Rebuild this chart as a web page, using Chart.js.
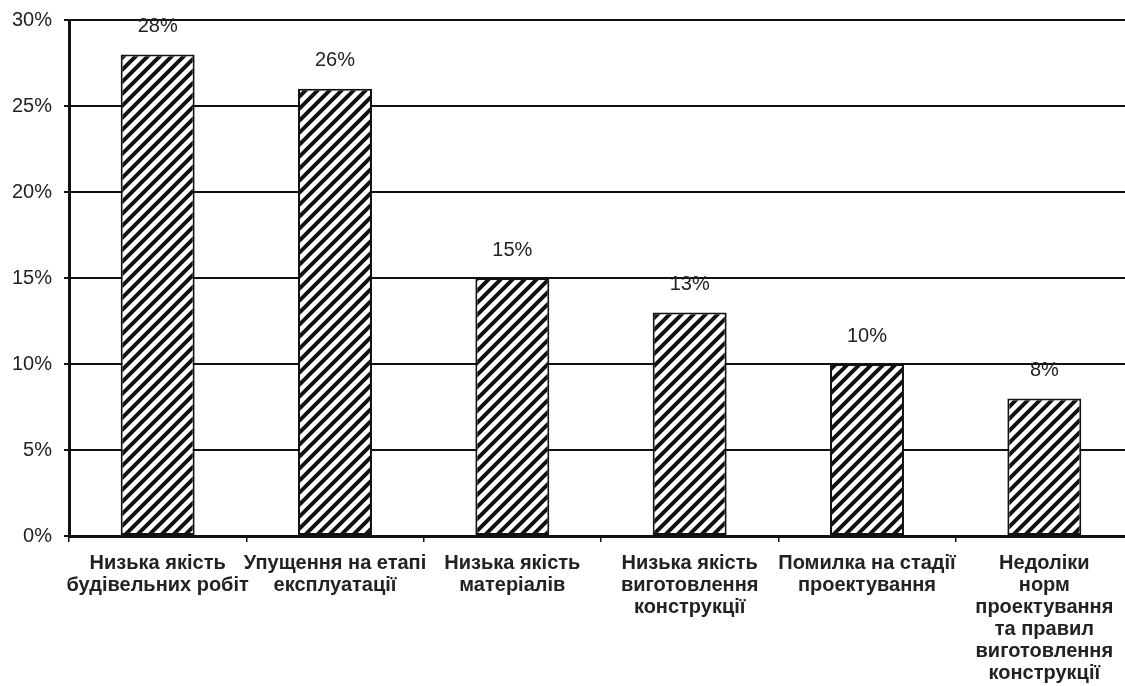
<!DOCTYPE html>
<html>
<head>
<meta charset="utf-8">
<script src="https://cdn.jsdelivr.net/npm/chart.js@4.4.1/dist/chart.umd.min.js"></script>
<style>
    html, body { margin: 0; padding: 0; background: #fff; overflow: hidden; }
    /* plot runs a little past the right edge, as in the scan */
    #wrap { width: 1133px; height: 686px; }
</style>
</head>
<body>
<div id="wrap"><canvas id="causesChart"></canvas></div>
<script>
// Categories and values
const categories = [
    ['Низька якість', 'будівельних робіт'],
    ['Упущення на етапі', 'експлуатації'],
    ['Низька якість', 'матеріалів'],
    ['Низька якість', 'виготовлення', 'конструкції'],
    ['Помилка на стадії', 'проектування'],
    ['Недоліки', 'норм', 'проектування', 'та правил', 'виготовлення', 'конструкції']
];
const shares = [28, 26, 15, 13, 10, 8];
const yTicks = [0, 5, 10, 15, 20, 25, 30];

const FONT = '"Liberation Sans", Arial, sans-serif';

// Hatch fill: black "/" stripes on white (lines x + y = k*s)
function makeHatch() {
    const s = 12;
    const c = document.createElement('canvas');
    c.width = s;
    c.height = s;
    const g = c.getContext('2d');
    g.fillStyle = '#fff';
    g.fillRect(0, 0, s, s);
    g.strokeStyle = '#111';
    g.lineWidth = 4;
    g.beginPath();
    g.moveTo(-3, s + 3); g.lineTo(s + 3, -3);
    g.moveTo(-3, 3); g.lineTo(3, -3);
    g.moveTo(s - 3, s + 3); g.lineTo(s + 3, s - 3);
    g.stroke();
    return g.createPattern(c, 'repeat');
}

// Value labels above bars
const valueLabels = {
    id: 'valueLabels',
    afterDatasetsDraw(chart) {
        const ctx = chart.ctx;
        const meta = chart.getDatasetMeta(0);
        ctx.save();
        ctx.font = '20px ' + FONT;
        ctx.fillStyle = '#222';
        ctx.textAlign = 'center';
        ctx.textBaseline = 'middle';
        meta.data.forEach((bar, i) => {
            ctx.fillText(shares[i] + '%', bar.x, bar.y - 28);
        });
        ctx.restore();
    }
};

const ctx = document.getElementById('causesChart').getContext('2d');
new Chart(ctx, {
    type: 'bar',
    data: {
        labels: categories,
        datasets: [{
            data: shares,
            backgroundColor: makeHatch(),
            borderColor: '#111',
            borderWidth: 2,
            borderSkipped: false,
            barPercentage: 0.417,
            categoryPercentage: 1
        }]
    },
    options: {
        responsive: true,
        maintainAspectRatio: false,
        animation: false,
        layout: {
            padding: { top: 20, right: 0, left: 2, bottom: 0 }
        },
        plugins: {
            legend: { display: false },
            tooltip: { enabled: false }
        },
        scales: {
            x: {
                grid: {
                    display: true,
                    drawOnChartArea: false,
                    color: '#111',
                    lineWidth: 1.5,
                    tickLength: 6,
                    offset: true
                },
                border: { color: '#111', width: 3 },
                ticks: {
                    color: '#222',
                    padding: 10,
                    maxRotation: 0,
                    autoSkip: false,
                    font: { family: FONT, size: 20, weight: 'bold', lineHeight: 1.1 }
                },
                afterFit(scale) { scale.height = 150; }
            },
            y: {
                min: 0,
                max: 30,
                afterBuildTicks(scale) { scale.ticks = yTicks.map(v => ({ value: v })); },
                grid: {
                    color: '#111',
                    lineWidth: 2,
                    tickLength: 5
                },
                border: { color: '#111', width: 3 },
                ticks: {
                    color: '#222',
                    padding: 8,
                    font: { family: FONT, size: 20 },
                    callback: v => v + '%\u2009'
                },
                afterFit(scale) { scale.width = 67; }
            }
        }
    },
    plugins: [valueLabels]
});
</script>
</body>
</html>
